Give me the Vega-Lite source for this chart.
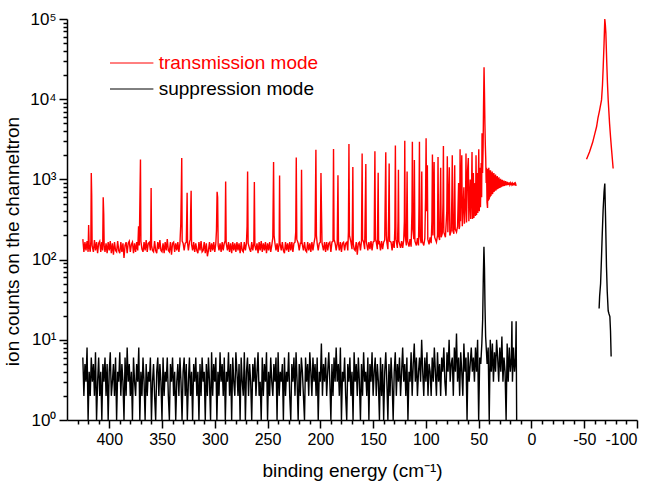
{
  "$schema": "https://vega.github.io/schema/vega-lite/v6.json",
  "width": 570,
  "height": 401,
  "autosize": {"type": "none"},
  "padding": {"left": 67, "top": 19, "right": 27, "bottom": 69},
  "config": {
    "font": "Liberation Sans",
    "background": "white",
    "view": {"stroke": null},
    "axis": {
      "grid": false,
      "domainColor": "#000",
      "domainWidth": 1.5,
      "tickColor": "#000",
      "tickWidth": 1.5,
      "labelColor": "#000",
      "titleColor": "#000",
      "titleFontWeight": "normal"
    }
  },
  "encoding": {
    "x": {
      "field": "e", "type": "quantitative",
      "scale": {"domain": [440, -100], "nice": false, "zero": false},
      "axis": {
        "title": "binding energy (cm⁻¹)",
        "titleFontSize": 19, "titleBaseline": "alphabetic", "titleY": 56,
        "values": [430,420,410,400,390,380,370,360,350,340,330,320,310,300,290,280,270,260,250,240,230,220,210,200,190,180,170,160,150,140,130,120,110,100,90,80,70,60,50,40,30,20,10,0,-10,-20,-30,-40,-50,-60,-70,-80,-90,-100],
        "labelExpr": "datum.value % 50 === 0 ? '' + datum.value : ''",
        "labelOverlap": false,
        "labelFontSize": 16,
        "labelPadding": 3,
        "tickSize": {"condition": {"test": "datum.value % 50 === 0", "value": 8}, "value": 4}
      }
    },
    "y": {
      "field": "c", "type": "quantitative",
      "scale": {"type": "log", "domain": [1, 100000], "nice": false},
      "axis": {
        "title": "ion counts on the channeltron",
        "titleFontSize": 19, "titleX": -55, "titleY": 222, "titleAngle": -90, "titleAlign": "center", "titleBaseline": "middle",
        "values": [1,2,3,4,5,6,7,8,9,10,20,30,40,50,60,70,80,90,100,200,300,400,500,600,700,800,900,1000,2000,3000,4000,5000,6000,7000,8000,9000,10000,20000,30000,40000,50000,60000,70000,80000,90000,100000],
        "labelExpr": "datum.value == 1 ? '10⁰' : datum.value == 10 ? '10¹' : datum.value == 100 ? '10²' : datum.value == 1000 ? '10³' : datum.value == 10000 ? '10⁴' : datum.value == 100000 ? '10⁵' : ''",
        "labelOverlap": false,
        "labelFontSize": 17,
        "labelPadding": 3,
        "tickSize": {"condition": {"test": "indexof([1,10,100,1000,10000,100000], datum.value) >= 0", "value": 8}, "value": 4}
      }
    }
  },
  "layer": [
    {
      "data": {"values": [
        {"e":425,"c":180},{"e":424,"c":125},{"e":423,"c":165},{"e":422,"c":130},{"e":421,"c":170},{"e":420,"c":125},{"e":419.5,"c":270},{"e":419,"c":150},{"e":418,"c":125},{"e":417.4,"c":170},{"e":417,"c":1200},{"e":416.6,"c":630},{"e":416.2,"c":150},{"e":415,"c":125},{"e":414,"c":175},{"e":413,"c":130},{"e":412,"c":165},{"e":411,"c":120},{"e":410,"c":160},{"e":409,"c":170},{"e":408,"c":125},{"e":407,"c":165},{"e":406.2,"c":130},{"e":405.7,"c":600},{"e":405.2,"c":370},{"e":404.8,"c":150},{"e":404,"c":125},{"e":403,"c":160},{"e":402,"c":120},{"e":401,"c":165},{"e":400,"c":130},{"e":399,"c":170},{"e":398,"c":120},{"e":397,"c":160},{"e":396,"c":115},{"e":395,"c":165},{"e":394,"c":130},{"e":393,"c":125},{"e":392,"c":170},{"e":391,"c":130},{"e":390,"c":120},{"e":389,"c":165},{"e":388,"c":125},{"e":387,"c":160},{"e":386,"c":105},{"e":385,"c":150},{"e":384,"c":165},{"e":383,"c":120},{"e":382,"c":160},{"e":381,"c":170},{"e":380,"c":125},{"e":379,"c":155},{"e":378,"c":165},{"e":377,"c":120},{"e":376,"c":160},{"e":375,"c":125},{"e":374,"c":165},{"e":373,"c":130},{"e":372.2,"c":260},{"e":371.5,"c":150},{"e":370.8,"c":720},{"e":370.4,"c":1770},{"e":370,"c":170},{"e":369,"c":135},{"e":368,"c":125},{"e":367,"c":165},{"e":366,"c":130},{"e":365,"c":175},{"e":364,"c":125},{"e":363,"c":160},{"e":362,"c":165},{"e":361,"c":130},{"e":360.7,"c":200},{"e":360.3,"c":780},{"e":359.9,"c":150},{"e":359,"c":130},{"e":358,"c":125},{"e":357,"c":170},{"e":356,"c":130},{"e":355,"c":120},{"e":354,"c":165},{"e":353,"c":135},{"e":352,"c":175},{"e":351,"c":130},{"e":350,"c":125},{"e":349,"c":160},{"e":348,"c":120},{"e":347,"c":165},{"e":346,"c":130},{"e":345,"c":180},{"e":344,"c":130},{"e":343,"c":125},{"e":342,"c":165},{"e":341,"c":115},{"e":340,"c":160},{"e":339,"c":165},{"e":338,"c":125},{"e":337,"c":160},{"e":336,"c":130},{"e":335,"c":165},{"e":334,"c":125},{"e":333,"c":160},{"e":332.2,"c":280},{"e":331.7,"c":700},{"e":331.3,"c":1850},{"e":330.9,"c":170},{"e":330,"c":160},{"e":329,"c":130},{"e":328,"c":160},{"e":327,"c":165},{"e":326.6,"c":320},{"e":326.2,"c":680},{"e":325.8,"c":160},{"e":325,"c":130},{"e":324,"c":165},{"e":323.2,"c":180},{"e":322.8,"c":420},{"e":322.4,"c":720},{"e":322,"c":155},{"e":321,"c":130},{"e":320,"c":165},{"e":319,"c":125},{"e":318,"c":160},{"e":317,"c":130},{"e":316,"c":120},{"e":315,"c":165},{"e":314,"c":130},{"e":313,"c":170},{"e":312,"c":125},{"e":311,"c":130},{"e":310,"c":165},{"e":309,"c":120},{"e":308,"c":160},{"e":307,"c":110},{"e":306,"c":130},{"e":305,"c":165},{"e":304,"c":125},{"e":303,"c":160},{"e":302,"c":130},{"e":301,"c":165},{"e":300,"c":125},{"e":299,"c":160},{"e":298.4,"c":230},{"e":297.8,"c":700},{"e":297.3,"c":600},{"e":296.8,"c":150},{"e":296,"c":130},{"e":295,"c":160},{"e":294,"c":125},{"e":293,"c":165},{"e":292,"c":130},{"e":291,"c":160},{"e":290.2,"c":170},{"e":289.7,"c":940},{"e":289.2,"c":160},{"e":288,"c":130},{"e":287,"c":165},{"e":286,"c":125},{"e":285,"c":160},{"e":284,"c":120},{"e":283,"c":165},{"e":282,"c":130},{"e":281,"c":160},{"e":280,"c":125},{"e":279,"c":165},{"e":278,"c":130},{"e":277,"c":160},{"e":276,"c":120},{"e":275,"c":165},{"e":274,"c":130},{"e":273,"c":125},{"e":272,"c":165},{"e":271,"c":130},{"e":270,"c":160},{"e":269.4,"c":260},{"e":268.9,"c":1250},{"e":268.4,"c":160},{"e":267,"c":135},{"e":266,"c":125},{"e":265,"c":165},{"e":264,"c":130},{"e":263,"c":160},{"e":262.5,"c":930},{"e":262,"c":150},{"e":261,"c":130},{"e":260,"c":160},{"e":259,"c":120},{"e":258,"c":165},{"e":257,"c":130},{"e":256,"c":170},{"e":255,"c":125},{"e":254,"c":160},{"e":253,"c":130},{"e":252,"c":165},{"e":251,"c":120},{"e":250,"c":160},{"e":249,"c":130},{"e":248,"c":165},{"e":247,"c":125},{"e":246,"c":150},{"e":245,"c":190},{"e":244.3,"c":1650},{"e":243.8,"c":200},{"e":243,"c":160},{"e":242,"c":130},{"e":241,"c":160},{"e":240,"c":125},{"e":239,"c":160},{"e":238.6,"c":1120},{"e":238.2,"c":160},{"e":237,"c":130},{"e":236,"c":165},{"e":235,"c":130},{"e":234,"c":120},{"e":233,"c":165},{"e":232,"c":130},{"e":231,"c":160},{"e":230,"c":125},{"e":229,"c":165},{"e":228,"c":130},{"e":227,"c":165},{"e":226,"c":125},{"e":225,"c":160},{"e":224,"c":165},{"e":223.3,"c":220},{"e":222.8,"c":1880},{"e":222.3,"c":180},{"e":221,"c":160},{"e":220,"c":130},{"e":219,"c":160},{"e":218.3,"c":160},{"e":217.8,"c":1320},{"e":217.3,"c":160},{"e":216,"c":130},{"e":215,"c":165},{"e":214,"c":130},{"e":213,"c":125},{"e":212,"c":165},{"e":211,"c":130},{"e":210,"c":160},{"e":209,"c":125},{"e":208,"c":165},{"e":207,"c":130},{"e":206,"c":160},{"e":205,"c":190},{"e":204.2,"c":2350},{"e":203.7,"c":200},{"e":203,"c":160},{"e":202,"c":130},{"e":201,"c":160},{"e":200,"c":165},{"e":199.4,"c":1200},{"e":198.9,"c":400},{"e":198.4,"c":160},{"e":197,"c":130},{"e":196,"c":165},{"e":195,"c":125},{"e":194,"c":165},{"e":193,"c":130},{"e":192,"c":160},{"e":191,"c":165},{"e":190,"c":125},{"e":189,"c":165},{"e":188,"c":170},{"e":187.5,"c":2400},{"e":187,"c":180},{"e":186,"c":160},{"e":185,"c":130},{"e":184,"c":160},{"e":183.3,"c":1130},{"e":182.8,"c":155},{"e":182,"c":130},{"e":181,"c":165},{"e":180,"c":125},{"e":179,"c":160},{"e":178,"c":165},{"e":177,"c":130},{"e":176,"c":160},{"e":175,"c":165},{"e":174,"c":130},{"e":173.4,"c":220},{"e":172.9,"c":2760},{"e":172.4,"c":200},{"e":171,"c":165},{"e":170,"c":135},{"e":169.6,"c":300},{"e":169.2,"c":1430},{"e":168.8,"c":160},{"e":168,"c":135},{"e":167,"c":130},{"e":166,"c":165},{"e":165,"c":115},{"e":164,"c":160},{"e":163,"c":165},{"e":162,"c":130},{"e":161,"c":170},{"e":160.4,"c":2100},{"e":160,"c":180},{"e":159,"c":165},{"e":158,"c":135},{"e":157.3,"c":600},{"e":156.9,"c":1560},{"e":156.5,"c":170},{"e":155,"c":130},{"e":154,"c":165},{"e":153,"c":135},{"e":152,"c":170},{"e":151,"c":130},{"e":150,"c":165},{"e":149,"c":170},{"e":148.3,"c":2250},{"e":147.8,"c":180},{"e":147,"c":165},{"e":146,"c":135},{"e":145.6,"c":400},{"e":145.2,"c":1210},{"e":144.8,"c":160},{"e":144,"c":165},{"e":143,"c":130},{"e":142,"c":170},{"e":141,"c":135},{"e":140,"c":165},{"e":139,"c":175},{"e":138,"c":2180},{"e":137.5,"c":200},{"e":137,"c":165},{"e":136,"c":135},{"e":135.3,"c":350},{"e":134.8,"c":1580},{"e":134.4,"c":170},{"e":133,"c":165},{"e":132,"c":130},{"e":131,"c":170},{"e":130,"c":140},{"e":129.4,"c":250},{"e":128.9,"c":2640},{"e":128.4,"c":180},{"e":127,"c":140},{"e":126.4,"c":300},{"e":126,"c":1320},{"e":125.6,"c":170},{"e":124,"c":140},{"e":123,"c":170},{"e":122,"c":140},{"e":121,"c":175},{"e":120.4,"c":300},{"e":120,"c":3030},{"e":119.6,"c":200},{"e":118.5,"c":150},{"e":117.8,"c":1250},{"e":117.3,"c":170},{"e":116,"c":145},{"e":115,"c":180},{"e":114,"c":145},{"e":113.2,"c":400},{"e":112.8,"c":2950},{"e":112.4,"c":250},{"e":111.4,"c":180},{"e":110.9,"c":1740},{"e":110.4,"c":170},{"e":109,"c":150},{"e":108,"c":185},{"e":107,"c":150},{"e":106.5,"c":500},{"e":106.1,"c":2950},{"e":105.7,"c":200},{"e":104.5,"c":160},{"e":103.9,"c":1250},{"e":103.4,"c":170},{"e":102,"c":150},{"e":101,"c":185},{"e":100.3,"c":600},{"e":99.8,"c":3250},{"e":99.3,"c":400},{"e":98.6,"c":1500},{"e":98.2,"c":180},{"e":97,"c":155},{"e":96,"c":190},{"e":95,"c":160},{"e":94.3,"c":300},{"e":93.8,"c":2050},{"e":93.3,"c":200},{"e":92.2,"c":1650},{"e":91.7,"c":190},{"e":90,"c":165},{"e":89,"c":200},{"e":88.5,"c":1900},{"e":88,"c":200},{"e":87,"c":175},{"e":86,"c":1400},{"e":85.5,"c":190},{"e":84.5,"c":210},{"e":83.8,"c":500},{"e":83.4,"c":2600},{"e":83,"c":220},{"e":81.5,"c":190},{"e":80.2,"c":400},{"e":79.7,"c":1950},{"e":79.2,"c":220},{"e":77.8,"c":1420},{"e":77.3,"c":200},{"e":76,"c":230},{"e":75.4,"c":600},{"e":75,"c":2000},{"e":74.5,"c":230},{"e":73.5,"c":210},{"e":72.7,"c":1500},{"e":72.2,"c":240},{"e":71,"c":220},{"e":70,"c":260},{"e":69,"c":900},{"e":68.5,"c":240},{"e":68,"c":260},{"e":67.6,"c":2380},{"e":67.2,"c":300},{"e":66,"c":2000},{"e":65.5,"c":260},{"e":64,"c":800},{"e":63.5,"c":280},{"e":62.4,"c":600},{"e":62,"c":2100},{"e":61.5,"c":290},{"e":60.5,"c":1300},{"e":59.8,"c":1850},{"e":59.3,"c":300},{"e":58,"c":1000},{"e":57.5,"c":320},{"e":56.8,"c":700},{"e":56.3,"c":2200},{"e":55.8,"c":320},{"e":55,"c":1200},{"e":54.5,"c":330},{"e":53.5,"c":900},{"e":53,"c":350},{"e":52.5,"c":2000},{"e":52,"c":360},{"e":51.3,"c":1200},{"e":50.8,"c":380},{"e":50.3,"c":1000},{"e":49.9,"c":2380},{"e":49.4,"c":400},{"e":48.8,"c":1400},{"e":48.3,"c":450},{"e":47.6,"c":1600},{"e":47.2,"c":600},{"e":46.8,"c":3750},{"e":46.3,"c":1200},{"e":45.8,"c":2500},{"e":45.4,"c":8000},{"e":44.9,"c":25000},{"e":44.5,"c":12000},{"e":44.1,"c":5000},{"e":43.7,"c":2700},{"e":43.3,"c":1800},{"e":42.9,"c":900},{"e":42.5,"c":1400},{"e":42.1,"c":520},{"e":41.6,"c":440},{"e":41.2,"c":1350},{"e":40.8,"c":540},{"e":40.4,"c":1400},{"e":40,"c":560},{"e":39.6,"c":1300},{"e":39.2,"c":600},{"e":38.8,"c":1300},{"e":38.4,"c":620},{"e":38,"c":1220},{"e":37.6,"c":650},{"e":37.2,"c":1250},{"e":36.8,"c":660},{"e":36.4,"c":1180},{"e":36,"c":690},{"e":35.6,"c":1200},{"e":35.2,"c":700},{"e":34.8,"c":1130},{"e":34.4,"c":720},{"e":34,"c":1150},{"e":33.6,"c":730},{"e":33.2,"c":1080},{"e":32.8,"c":750},{"e":32.4,"c":1100},{"e":32,"c":760},{"e":31.6,"c":1040},{"e":31.2,"c":770},{"e":30.8,"c":1060},{"e":30.4,"c":780},{"e":30,"c":1000},{"e":29.6,"c":790},{"e":29.2,"c":1020},{"e":28.8,"c":800},{"e":28.4,"c":980},{"e":28,"c":810},{"e":27.6,"c":990},{"e":27.2,"c":820},{"e":26.8,"c":960},{"e":26.4,"c":820},{"e":26,"c":970},{"e":25.6,"c":830},{"e":25.2,"c":940},{"e":24.8,"c":840},{"e":24.4,"c":950},{"e":24,"c":840},{"e":23.6,"c":920},{"e":23.2,"c":850},{"e":22.8,"c":930},{"e":22.4,"c":850},{"e":22,"c":910},{"e":21.5,"c":855},{"e":21,"c":920},{"e":20.5,"c":860},{"e":20,"c":900},{"e":19.5,"c":850},{"e":19,"c":910},{"e":18.5,"c":860},{"e":18,"c":890},{"e":17.5,"c":840},{"e":17,"c":900},{"e":16.5,"c":850},{"e":16,"c":920},{"e":15.5,"c":840},{"e":15,"c":880},{"e":14.5,"c":830}
      ]},
      "mark": {"type": "line", "strokeWidth": 1.4},
      "encoding": {
        "color": {
          "datum": "transmission mode", "type": "nominal",
          "scale": {"domain": ["transmission mode", "suppression mode"], "range": ["#ff0000", "#000000"]},
          "legend": {
            "orient": "none", "legendX": 48.7, "legendY": 28, "title": null, "padding": 0,
            "symbolType": "M-1.4,0H1.4", "symbolSize": 961, "symbolStrokeWidth": 1,
            "labelFontSize": 19, "labelOffset": 11, "labelLimit": 300, "rowPadding": 0,
            "encode": {"labels": {"update": {"fill": {"signal": "datum.value === 'transmission mode' ? '#ff0000' : '#000000'"}}}}
          }
        }
      }
    },
    {
      "data": {"values": [
        {"e":-52.2,"c":1780},{"e":-55,"c":2200},{"e":-58,"c":2900},{"e":-60,"c":3700},{"e":-61.7,"c":4530},{"e":-63,"c":5800},{"e":-64.5,"c":7200},{"e":-66.4,"c":9800},{"e":-67.3,"c":15000},{"e":-68,"c":25500},{"e":-68.8,"c":50000},{"e":-69.5,"c":100000},{"e":-70,"c":85000},{"e":-70.5,"c":67000},{"e":-71.3,"c":30000},{"e":-72,"c":16000},{"e":-72.7,"c":9800},{"e":-74,"c":5000},{"e":-75,"c":3300},{"e":-75.9,"c":2350},{"e":-77.4,"c":1370}
      ]},
      "mark": {"type": "line", "strokeWidth": 1.4},
      "encoding": {"color": {"datum": "transmission mode", "type": "nominal"}}
    },
    {
      "data": {"values": [
        {"e":425,"c":6},{"e":424,"c":2},{"e":423,"c":5},{"e":422,"c":3},{"e":421,"c":8},{"e":420,"c":1},{"e":419,"c":4},{"e":418,"c":2},{"e":417,"c":6},{"e":416,"c":3},
        {"e":415,"c":5},{"e":414,"c":2},{"e":413,"c":7},{"e":412,"c":1},{"e":411,"c":3},{"e":410,"c":6},{"e":409,"c":2},{"e":408,"c":4},{"e":407,"c":1},{"e":406,"c":5},
        {"e":405,"c":3},{"e":404,"c":6},{"e":403,"c":2},{"e":402,"c":5},{"e":401,"c":1},{"e":400,"c":4},{"e":399,"c":7},{"e":398,"c":2},{"e":397,"c":3},{"e":396,"c":5},
        {"e":395,"c":2},{"e":394,"c":6},{"e":393,"c":1},{"e":392,"c":4},{"e":391,"c":3},{"e":390,"c":7},{"e":389,"c":2},{"e":388,"c":5},{"e":387,"c":3},{"e":386,"c":1},
        {"e":385,"c":6},{"e":384,"c":2},{"e":383,"c":8},{"e":382,"c":3},{"e":381,"c":5},{"e":380,"c":2},{"e":379,"c":4},{"e":378,"c":1},{"e":377,"c":6},{"e":376,"c":3},
        {"e":375,"c":2},{"e":374,"c":5},{"e":373,"c":3},{"e":372,"c":8},{"e":371,"c":1},{"e":370,"c":4},{"e":369,"c":2},{"e":368,"c":6},{"e":367,"c":3},{"e":366,"c":1},
        {"e":365,"c":5},{"e":364,"c":2},{"e":363,"c":4},{"e":362,"c":3},{"e":361,"c":6},{"e":360,"c":1},{"e":359,"c":3},{"e":358,"c":5},{"e":357,"c":2},{"e":356,"c":1},
        {"e":355,"c":4},{"e":354,"c":6},{"e":353,"c":2},{"e":352,"c":5},{"e":351,"c":3},{"e":350,"c":1},{"e":349,"c":6},{"e":348,"c":2},{"e":347,"c":4},{"e":346,"c":3},
        {"e":345,"c":6},{"e":344,"c":2},{"e":343,"c":1},{"e":342,"c":5},{"e":341,"c":3},{"e":340,"c":6},{"e":339,"c":2},{"e":338,"c":4},{"e":337,"c":1},{"e":336,"c":3},
        {"e":335,"c":5},{"e":334,"c":2},{"e":333,"c":6},{"e":332,"c":3},{"e":331,"c":1},{"e":330,"c":4},{"e":329,"c":6},{"e":328,"c":2},{"e":327,"c":5},{"e":326,"c":1},
        {"e":325,"c":3},{"e":324,"c":6},{"e":323,"c":2},{"e":322,"c":4},{"e":321,"c":1},{"e":320,"c":5},{"e":319,"c":3},{"e":318,"c":6},{"e":317,"c":2},{"e":316,"c":4},
        {"e":315,"c":1},{"e":314,"c":5},{"e":313,"c":2},{"e":312,"c":6},{"e":311,"c":3},{"e":310,"c":4},{"e":309,"c":1},{"e":308,"c":5},{"e":307,"c":2},{"e":306,"c":6},
        {"e":305,"c":3},{"e":304,"c":1},{"e":303,"c":7},{"e":302,"c":2},{"e":301,"c":5},{"e":300,"c":3},{"e":299,"c":6},{"e":298,"c":1},{"e":297,"c":4},{"e":296,"c":2},
        {"e":295,"c":7},{"e":294,"c":3},{"e":293,"c":5},{"e":292,"c":2},{"e":291,"c":6},{"e":290,"c":1},{"e":289,"c":4},{"e":288,"c":3},{"e":287,"c":7},{"e":286,"c":2},
        {"e":285,"c":5},{"e":284,"c":1},{"e":283,"c":6},{"e":282,"c":3},{"e":281,"c":2},{"e":280,"c":7},{"e":279,"c":4},{"e":278,"c":2},{"e":277,"c":5},{"e":276,"c":1},
        {"e":275,"c":6},{"e":274,"c":3},{"e":273,"c":2},{"e":272,"c":7},{"e":271,"c":1},{"e":270,"c":4},{"e":269,"c":6},{"e":268,"c":2},{"e":267,"c":5},{"e":266,"c":3},
        {"e":265,"c":1},{"e":264,"c":5},{"e":263,"c":3},{"e":262,"c":6},{"e":261,"c":2},{"e":260,"c":4},{"e":259,"c":7},{"e":258,"c":2},{"e":257,"c":3},{"e":256,"c":1},
        {"e":255,"c":6},{"e":254,"c":2},{"e":253,"c":5},{"e":252,"c":3},{"e":251,"c":7},{"e":250,"c":1},{"e":249,"c":4},{"e":248,"c":2},{"e":247,"c":6},{"e":246,"c":3},
        {"e":245,"c":2},{"e":244,"c":5},{"e":243,"c":3},{"e":242,"c":6},{"e":241,"c":1},{"e":240,"c":7},{"e":239,"c":2},{"e":238,"c":4},{"e":237,"c":3},{"e":236,"c":5},
        {"e":235,"c":1},{"e":234,"c":6},{"e":233,"c":2},{"e":232,"c":4},{"e":231,"c":3},{"e":230,"c":7},{"e":229,"c":2},{"e":228,"c":1},{"e":227,"c":5},{"e":226,"c":3},
        {"e":225,"c":6},{"e":224,"c":2},{"e":223,"c":7},{"e":222,"c":3},{"e":221,"c":1},{"e":220,"c":5},{"e":219,"c":2},{"e":218,"c":6},{"e":217,"c":4},{"e":216,"c":2},
        {"e":215,"c":1},{"e":214,"c":6},{"e":213,"c":3},{"e":212,"c":5},{"e":211,"c":2},{"e":210,"c":7},{"e":209,"c":4},{"e":208,"c":2},{"e":207,"c":6},{"e":206,"c":3},
        {"e":205,"c":5},{"e":204,"c":2},{"e":203,"c":6},{"e":202,"c":1},{"e":201,"c":4},{"e":200,"c":3},{"e":199,"c":9},{"e":198,"c":2},{"e":197,"c":5},{"e":196,"c":3},
        {"e":195,"c":6},{"e":194,"c":2},{"e":193,"c":4},{"e":192,"c":7},{"e":191,"c":3},{"e":190,"c":1},{"e":189,"c":5},{"e":188,"c":2},{"e":187,"c":6},{"e":186,"c":3},
        {"e":185,"c":8},{"e":184,"c":3},{"e":183,"c":5},{"e":182,"c":2},{"e":181,"c":8},{"e":180,"c":1},{"e":179,"c":4},{"e":178,"c":3},{"e":177,"c":6},{"e":176,"c":2},
        {"e":175,"c":1},{"e":174,"c":5},{"e":173,"c":3},{"e":172,"c":6},{"e":171,"c":2},{"e":170,"c":4},{"e":169,"c":1},{"e":168,"c":7},{"e":167,"c":3},{"e":166,"c":5},
        {"e":165,"c":2},{"e":164,"c":6},{"e":163,"c":3},{"e":162,"c":1},{"e":161,"c":5},{"e":160,"c":2},{"e":159,"c":7},{"e":158,"c":3},{"e":157,"c":4},{"e":156,"c":2},
        {"e":155,"c":6},{"e":154,"c":1},{"e":153,"c":5},{"e":152,"c":3},{"e":151,"c":7},{"e":150,"c":2},{"e":149,"c":4},{"e":148,"c":6},{"e":147,"c":2},{"e":146,"c":5},
        {"e":145,"c":3},{"e":144,"c":1},{"e":143,"c":6},{"e":142,"c":2},{"e":141,"c":5},{"e":140,"c":1},{"e":139,"c":4},{"e":138,"c":7},{"e":137,"c":3},{"e":136,"c":1},
        {"e":135,"c":5},{"e":134,"c":2},{"e":133,"c":6},{"e":132,"c":3},{"e":131,"c":1},{"e":130,"c":4},{"e":129,"c":7},{"e":128,"c":2},{"e":127,"c":5},{"e":126,"c":3},
        {"e":125,"c":6},{"e":124,"c":2},{"e":123,"c":4},{"e":122,"c":8},{"e":121,"c":3},{"e":120,"c":5},{"e":119,"c":2},{"e":118,"c":6},{"e":117,"c":1},{"e":116,"c":4},
        {"e":115,"c":3},{"e":114,"c":7},{"e":113,"c":2},{"e":112,"c":5},{"e":111,"c":9},{"e":110,"c":3},{"e":109,"c":6},{"e":108,"c":2},{"e":107,"c":4},{"e":106,"c":6},
        {"e":105,"c":3},{"e":104,"c":10},{"e":103,"c":4},{"e":102,"c":2},{"e":101,"c":6},{"e":100,"c":3},{"e":99,"c":7},{"e":98,"c":2},{"e":97,"c":5},{"e":96,"c":4},
        {"e":95,"c":2},{"e":94,"c":6},{"e":93,"c":3},{"e":92,"c":8},{"e":91,"c":4},{"e":90,"c":2},{"e":89,"c":7},{"e":88,"c":3},{"e":87,"c":5},{"e":86,"c":2},
        {"e":85,"c":6},{"e":84,"c":4},{"e":83,"c":8},{"e":82,"c":3},{"e":81,"c":2},{"e":80,"c":7},{"e":79,"c":4},{"e":78,"c":10},{"e":77,"c":3},{"e":76,"c":5},
        {"e":75,"c":6},{"e":74,"c":2},{"e":73,"c":8},{"e":72,"c":4},{"e":71,"c":12},{"e":70,"c":3},{"e":69,"c":6},{"e":68,"c":2},{"e":67,"c":7},{"e":66,"c":4},
        {"e":65,"c":2},{"e":64,"c":9},{"e":63,"c":4},{"e":62,"c":6},{"e":61,"c":1},{"e":60,"c":7},{"e":59,"c":3},{"e":58,"c":5},{"e":57,"c":8},{"e":56,"c":4},
        {"e":55,"c":6},{"e":54,"c":3},{"e":53,"c":8},{"e":52,"c":4},{"e":51,"c":10},{"e":50,"c":1},{"e":49,"c":6},{"e":48,"c":5},{"e":47,"c":9},{"e":46.2,"c":18},
        {"e":45.6,"c":60},{"e":45,"c":145},{"e":44.5,"c":80},{"e":44,"c":26},{"e":43.4,"c":11},
        {"e":42,"c":5},{"e":41,"c":8},{"e":40,"c":1},{"e":39,"c":10},{"e":38,"c":4},{"e":37,"c":9},{"e":36,"c":3},{"e":35,"c":7},{"e":34,"c":4},{"e":33,"c":10},
        {"e":32,"c":6},{"e":31,"c":3},{"e":30,"c":8},{"e":29,"c":4},{"e":28,"c":11},{"e":27,"c":3},{"e":26,"c":6},{"e":25,"c":4},{"e":24,"c":1},{"e":23,"c":9},
        {"e":22,"c":3},{"e":21,"c":8},{"e":20,"c":4},{"e":19,"c":6},{"e":18.5,"c":17},{"e":18,"c":3},{"e":17,"c":8},{"e":16,"c":4},{"e":15,"c":6},{"e":14.5,"c":17},{"e":14,"c":1}
      ]},
      "mark": {"type": "line", "strokeWidth": 1.4},
      "encoding": {"color": {"datum": "suppression mode", "type": "nominal"}}
    },
    {
      "data": {"values": [
        {"e":-64.1,"c":24.5},{"e":-64.6,"c":35},{"e":-65.5,"c":50},{"e":-66.3,"c":100},{"e":-67,"c":194},{"e":-67.9,"c":414},{"e":-68.8,"c":700},{"e":-69.5,"c":890},{"e":-70.2,"c":340},{"e":-71.1,"c":81},{"e":-71.8,"c":40},{"e":-72.7,"c":23},{"e":-73.5,"c":21},{"e":-74.3,"c":19.5},{"e":-74.9,"c":13},{"e":-75.5,"c":6.2}
      ]},
      "mark": {"type": "line", "strokeWidth": 1.4},
      "encoding": {"color": {"datum": "suppression mode", "type": "nominal"}}
    }
  ]
}
